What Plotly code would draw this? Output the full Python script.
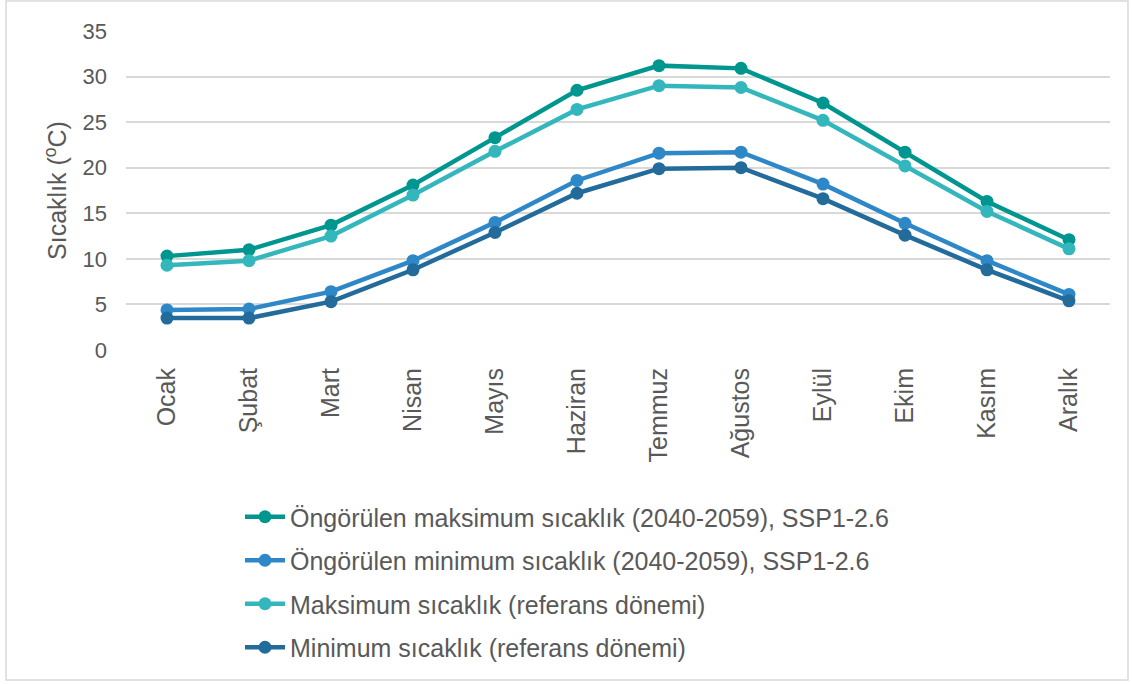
import plotly.graph_objects as go

months = ["Ocak", "Şubat", "Mart", "Nisan", "Mayıs", "Haziran",
          "Temmuz", "Ağustos", "Eylül", "Ekim", "Kasım", "Aralık"]

proj_max = [10.3, 11.0, 13.7, 18.1, 23.3, 28.5, 31.2, 30.9, 27.1, 21.7, 16.3, 12.1]
proj_min = [4.4, 4.5, 6.4, 9.8, 14.0, 18.6, 21.6, 21.7, 18.2, 13.9, 9.8, 6.1]
ref_max = [9.3, 9.8, 12.5, 17.0, 21.8, 26.4, 29.0, 28.8, 25.2, 20.2, 15.2, 11.1]
ref_min = [3.5, 3.5, 5.3, 8.8, 12.9, 17.2, 19.9, 20.0, 16.6, 12.6, 8.8, 5.4]

series = [
    ("Öngörülen maksimum sıcaklık (2040-2059), SSP1-2.6", proj_max, "#009690"),
    ("Öngörülen minimum sıcaklık (2040-2059), SSP1-2.6", proj_min, "#2E88C8"),
    ("Maksimum sıcaklık (referans dönemi)", ref_max, "#33B7BC"),
    ("Minimum sıcaklık (referans dönemi)", ref_min, "#226B9A"),
]

W, H = 1132, 684
L, R, T, B = 126, 22, 31, 334
pw, ph = W - L - R, H - T - B

fig = go.Figure()
for i, (name, vals, col) in enumerate(series):
    fig.add_trace(go.Scatter(
        x=months, y=vals, name=name, mode="lines+markers",
        line=dict(color=col, width=4.5),
        marker=dict(color=col, size=13),
        legendgroup=str(i),
    ))

font_fam = "Liberation Sans, Arial, sans-serif"
grey = "#595959"

fig.update_layout(
    width=W, height=H,
    margin=dict(l=L, r=R, t=T, b=B),
    paper_bgcolor="white", plot_bgcolor="white",
    showlegend=True,
    legend=dict(
        x=(240 - L) / pw, y=(H - B - 494) / ph, xanchor="left", yanchor="top",
        font=dict(family=font_fam, size=25, color=grey),
        traceorder="grouped", tracegroupgap=8, itemwidth=40,
        bgcolor="rgba(0,0,0,0)",
    ),
    xaxis=dict(
        type="category", range=[-0.5, 11.5], showgrid=False, zeroline=False,
        showline=False, ticks="", tickangle=-90, ticklabelstandoff=12,
        tickfont=dict(family=font_fam, size=25, color=grey),
    ),
    yaxis=dict(
        range=[0, 35], dtick=5, showgrid=True, gridcolor="#D9D9D9", gridwidth=1.5,
        zeroline=False, showline=False, ticks="", ticklabelstandoff=18,
        tickfont=dict(family=font_fam, size=22, color=grey),
        title=dict(text="Sıcaklık (<sup>o</sup>C)", standoff=8,
                   font=dict(family=font_fam, size=25, color=grey)),
    ),
    shapes=[dict(
        type="rect", xref="paper", yref="paper",
        x0=(6 - L) / pw, x1=(1128 - L) / pw,
        y0=(H - B - 680) / ph, y1=(H - B - 1) / ph,
        line=dict(color="#D9D9D9", width=1.5), fillcolor="rgba(0,0,0,0)",
    )],
)

fig.write_html("out.html")
